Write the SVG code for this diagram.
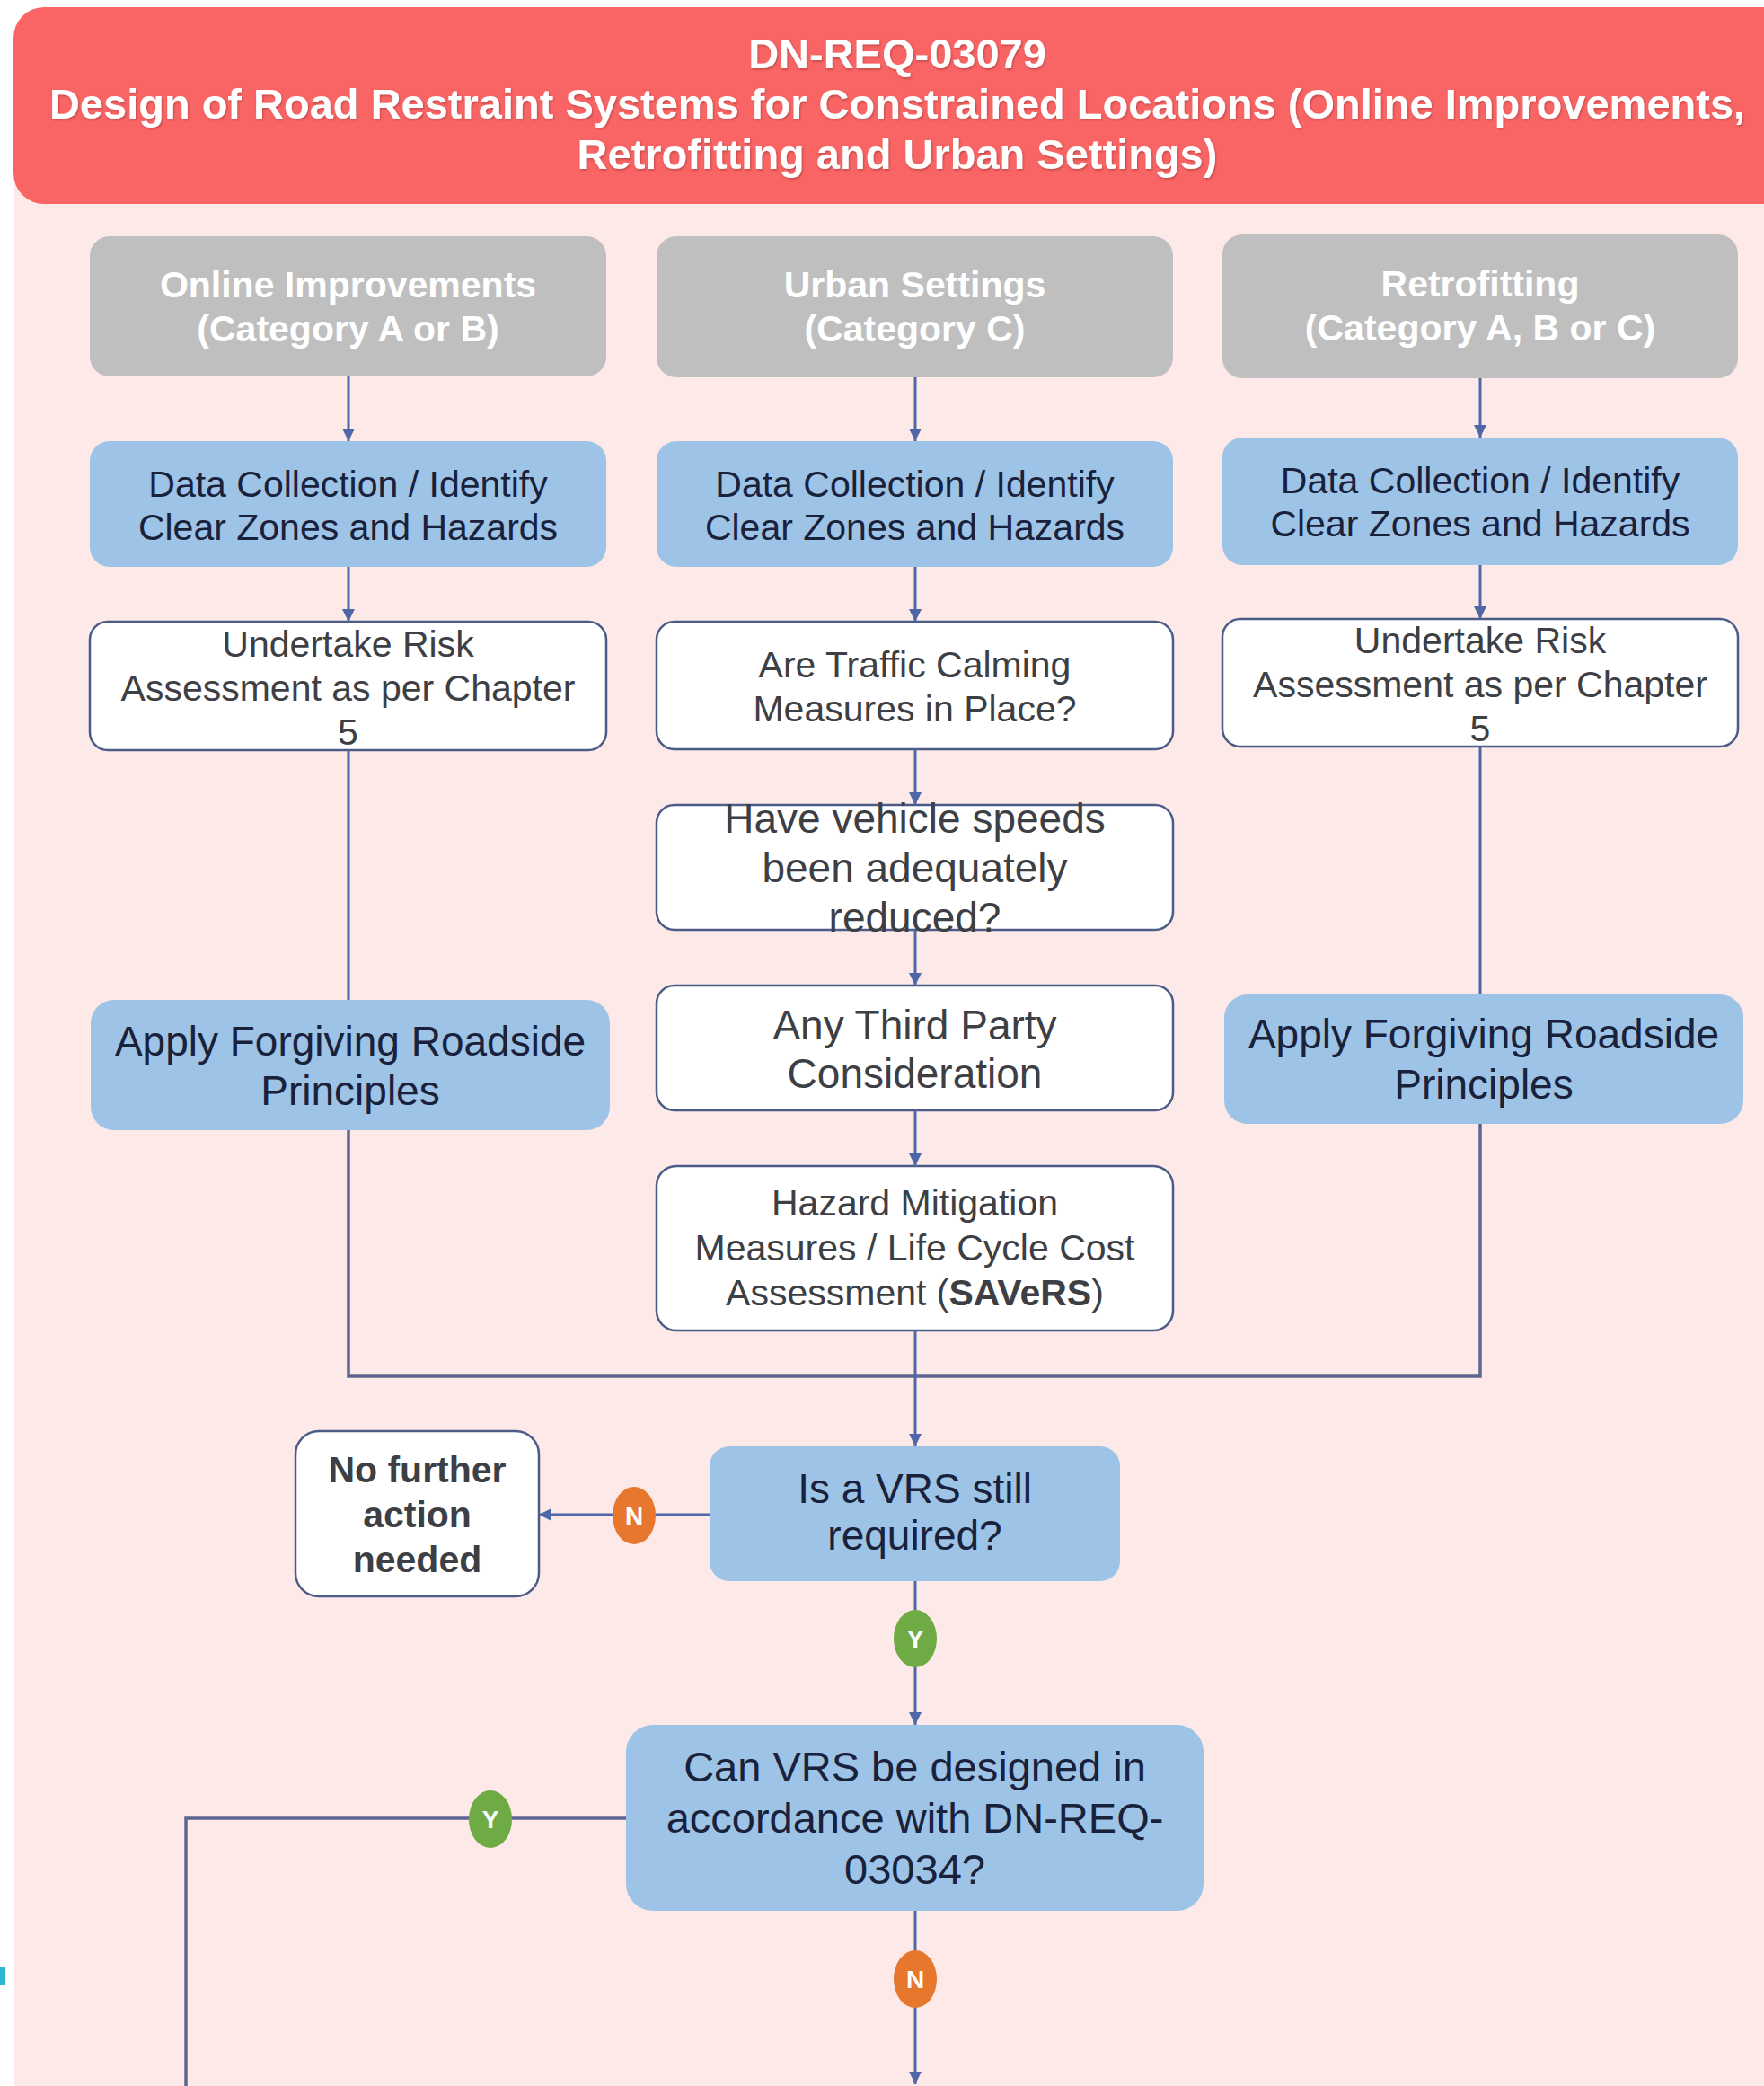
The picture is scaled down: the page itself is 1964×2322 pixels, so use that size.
<svg xmlns="http://www.w3.org/2000/svg" width="1964" height="2322" viewBox="0 0 1964 2322">
  <defs>
    <style>
      .t { font-family: "Liberation Sans", Arial, Helvetica, sans-serif; text-anchor: middle; }
      .title { font-weight: bold; font-size: 47px; fill: #ffffff; }
      .hdr { font-weight: bold; font-size: 41px; fill: #ffffff; }
      .dark { font-size: 41px; fill: #19213b; }
      .grey { font-size: 41px; fill: #3d3f45; }
      .big { font-size: 46px; }
      .bold { font-weight: bold; }
      .box-grey { fill: #bfbfbf; }
      .box-blue { fill: #9dc3e6; }
      .box-white { fill: #ffffff; stroke: #4b5c88; stroke-width: 2.5; }
      .wire { fill: none; stroke: #4f67a6; stroke-width: 3; }
      .wire-grey { fill: none; stroke: #5d6690; stroke-width: 3.5; }
      .badge-text { font-family: "Liberation Sans", Arial, Helvetica, sans-serif; font-weight: bold; font-size: 28px; fill: #ffffff; text-anchor: middle; }
      .badge-n { fill: #e8772e; }
      .badge-y { fill: #6eab45; }
    </style>
    <marker id="arrow" viewBox="0 0 10 10" refX="10" refY="5" markerWidth="14" markerHeight="14" markerUnits="userSpaceOnUse" orient="auto">
      <path d="M0,0 L10,5 L0,10 z" fill="#4f67a6"/>
    </marker>
    <filter id="textShadow" x="-5%" y="-20%" width="110%" height="140%">
      <feDropShadow dx="1" dy="1.5" stdDeviation="1" flood-color="#7a2020" flood-opacity="0.45"/>
    </filter>
  </defs>

  <!-- page -->
  <rect x="0" y="0" width="1964" height="2322" fill="#ffffff"/>
  <rect x="16" y="150" width="1948" height="2172" fill="#fde9e7"/>
  <rect x="0" y="2190" width="6" height="20" fill="#2bb8cc"/>

  <!-- title banner -->
  <g id="title">
    <rect x="15" y="8" width="1990" height="219" rx="34" fill="#f96565"/>
    <g filter="url(#textShadow)">
      <text class="t title" x="999" y="76">DN-REQ-03079</text>
      <text class="t title" x="999" y="132">Design of Road Restraint Systems for Constrained Locations (Online Improvements,</text>
      <text class="t title" x="999" y="188">Retrofitting and Urban Settings)</text>
    </g>
  </g>

  <!-- column headers -->
  <g id="hdr-online">
    <rect class="box-grey" x="100" y="263" width="575" height="156" rx="22"/>
    <text class="t hdr" x="387.5" y="331">Online Improvements</text>
    <text class="t hdr" x="387.5" y="380">(Category A or B)</text>
  </g>
  <g id="hdr-urban">
    <rect class="box-grey" x="731" y="263" width="575" height="157" rx="22"/>
    <text class="t hdr" x="1018.5" y="331">Urban Settings</text>
    <text class="t hdr" x="1018.5" y="380">(Category C)</text>
  </g>
  <g id="hdr-retro">
    <rect class="box-grey" x="1361" y="261" width="574" height="160" rx="22"/>
    <text class="t hdr" x="1648" y="330">Retrofitting</text>
    <text class="t hdr" x="1648" y="379">(Category A, B or C)</text>
  </g>

  <!-- data collection -->
  <g id="data-online">
    <rect class="box-blue" x="100" y="491" width="575" height="140" rx="22"/>
    <text class="t dark" x="387.5" y="553">Data Collection / Identify</text>
    <text class="t dark" x="387.5" y="601">Clear Zones and Hazards</text>
  </g>
  <g id="data-urban">
    <rect class="box-blue" x="731" y="491" width="575" height="140" rx="22"/>
    <text class="t dark" x="1018.5" y="553">Data Collection / Identify</text>
    <text class="t dark" x="1018.5" y="601">Clear Zones and Hazards</text>
  </g>
  <g id="data-retro">
    <rect class="box-blue" x="1361" y="487" width="574" height="142" rx="22"/>
    <text class="t dark" x="1648" y="549">Data Collection / Identify</text>
    <text class="t dark" x="1648" y="597">Clear Zones and Hazards</text>
  </g>

  <!-- risk assessment / traffic calming -->
  <g id="risk-online">
    <rect class="box-white" x="100" y="692" width="575" height="143" rx="20"/>
    <text class="t grey" x="387.5" y="731">Undertake Risk</text>
    <text class="t grey" x="387.5" y="780">Assessment as per Chapter</text>
    <text class="t grey" x="387.5" y="829">5</text>
  </g>
  <g id="calming">
    <rect class="box-white" x="731" y="692" width="575" height="142" rx="20"/>
    <text class="t grey" x="1018.5" y="754">Are Traffic Calming</text>
    <text class="t grey" x="1018.5" y="803">Measures in Place?</text>
  </g>
  <g id="risk-retro">
    <rect class="box-white" x="1361" y="689" width="574" height="142" rx="20"/>
    <text class="t grey" x="1648" y="727">Undertake Risk</text>
    <text class="t grey" x="1648" y="776">Assessment as per Chapter</text>
    <text class="t grey" x="1648" y="825">5</text>
  </g>

  <!-- urban column -->
  <g id="speeds">
    <rect class="box-white" x="731" y="896" width="575" height="139" rx="20"/>
    <text class="t grey big" x="1018.5" y="927">Have vehicle speeds</text>
    <text class="t grey big" x="1018.5" y="982">been adequately</text>
    <text class="t grey big" x="1018.5" y="1037">reduced?</text>
  </g>
  <g id="third-party">
    <rect class="box-white" x="731" y="1097" width="575" height="139" rx="20"/>
    <text class="t grey big" x="1018.5" y="1157">Any Third Party</text>
    <text class="t grey big" x="1018.5" y="1211">Consideration</text>
  </g>
  <g id="hazard">
    <rect class="box-white" x="731" y="1298" width="575" height="183" rx="22"/>
    <text class="t grey" x="1018.5" y="1353">Hazard Mitigation</text>
    <text class="t grey" x="1018.5" y="1403">Measures / Life Cycle Cost</text>
    <text class="t grey" x="1018.5" y="1453">Assessment (<tspan class="bold">SAVeRS</tspan>)</text>
  </g>

  <!-- forgiving roadside -->
  <g id="apply-online">
    <rect class="box-blue" x="101" y="1113" width="578" height="145" rx="26"/>
    <text class="t dark big" x="390" y="1175">Apply Forgiving Roadside</text>
    <text class="t dark big" x="390" y="1230">Principles</text>
  </g>
  <g id="apply-retro">
    <rect class="box-blue" x="1363" y="1107" width="578" height="144" rx="26"/>
    <text class="t dark big" x="1652" y="1167">Apply Forgiving Roadside</text>
    <text class="t dark big" x="1652" y="1223">Principles</text>
  </g>

  <!-- decisions -->
  <g id="vrs-required">
    <rect class="box-blue" x="790" y="1610" width="457" height="150" rx="22"/>
    <text class="t dark big" x="1018.5" y="1673">Is a VRS still</text>
    <text class="t dark big" x="1018.5" y="1725">required?</text>
  </g>
  <g id="no-action">
    <rect class="box-white" x="329" y="1593" width="271" height="184" rx="26"/>
    <text class="t grey bold" x="464.5" y="1650">No further</text>
    <text class="t grey bold" x="464.5" y="1700">action</text>
    <text class="t grey bold" x="464.5" y="1750">needed</text>
  </g>
  <g id="vrs-design">
    <rect class="box-blue" x="697" y="1920" width="643" height="207" rx="30"/>
    <text class="t dark" style="font-size:47px" x="1018.5" y="1983">Can VRS be designed in</text>
    <text class="t dark" style="font-size:47px" x="1018.5" y="2040">accordance with DN-REQ-</text>
    <text class="t dark" style="font-size:47px" x="1018.5" y="2097">03034?</text>
  </g>

  <!-- connectors -->
  <g id="connectors">
    <path class="wire" d="M388 419 V491" marker-end="url(#arrow)"/>
    <path class="wire" d="M388 631 V692" marker-end="url(#arrow)"/>
    <path class="wire" d="M388 835 V1113"/>

    <path class="wire" d="M1019 420 V491" marker-end="url(#arrow)"/>
    <path class="wire" d="M1019 631 V692" marker-end="url(#arrow)"/>
    <path class="wire" d="M1019 834 V896" marker-end="url(#arrow)"/>
    <path class="wire" d="M1019 1035 V1097" marker-end="url(#arrow)"/>
    <path class="wire" d="M1019 1236 V1298" marker-end="url(#arrow)"/>

    <path class="wire" d="M1648 421 V487" marker-end="url(#arrow)"/>
    <path class="wire" d="M1648 629 V689" marker-end="url(#arrow)"/>
    <path class="wire" d="M1648 831 V1107"/>

    <path class="wire-grey" d="M388 1258 V1532 H1648 V1251"/>
    <path class="wire" d="M1019 1481 V1610" marker-end="url(#arrow)"/>

    <path class="wire" d="M790 1686 H600" marker-end="url(#arrow)"/>
    <path class="wire" d="M1019 1760 V1920" marker-end="url(#arrow)"/>
    <path class="wire-grey" d="M697 2024 H207 V2322"/>
    <path class="wire" d="M1019 2127 V2320" marker-end="url(#arrow)"/>

    <g id="label-vrs-no">
      <ellipse class="badge-n" cx="706" cy="1687" rx="24" ry="32"/>
      <text class="badge-text" x="706" y="1697">N</text>
    </g>
    <g id="label-vrs-yes">
      <ellipse class="badge-y" cx="1019" cy="1824" rx="24" ry="32"/>
      <text class="badge-text" x="1019" y="1834">Y</text>
    </g>
    <g id="label-design-yes">
      <ellipse class="badge-y" cx="546" cy="2025" rx="24" ry="32"/>
      <text class="badge-text" x="546" y="2035">Y</text>
    </g>
    <g id="label-design-no">
      <ellipse class="badge-n" cx="1019" cy="2203" rx="24" ry="32"/>
      <text class="badge-text" x="1019" y="2213">N</text>
    </g>
  </g>
</svg>
